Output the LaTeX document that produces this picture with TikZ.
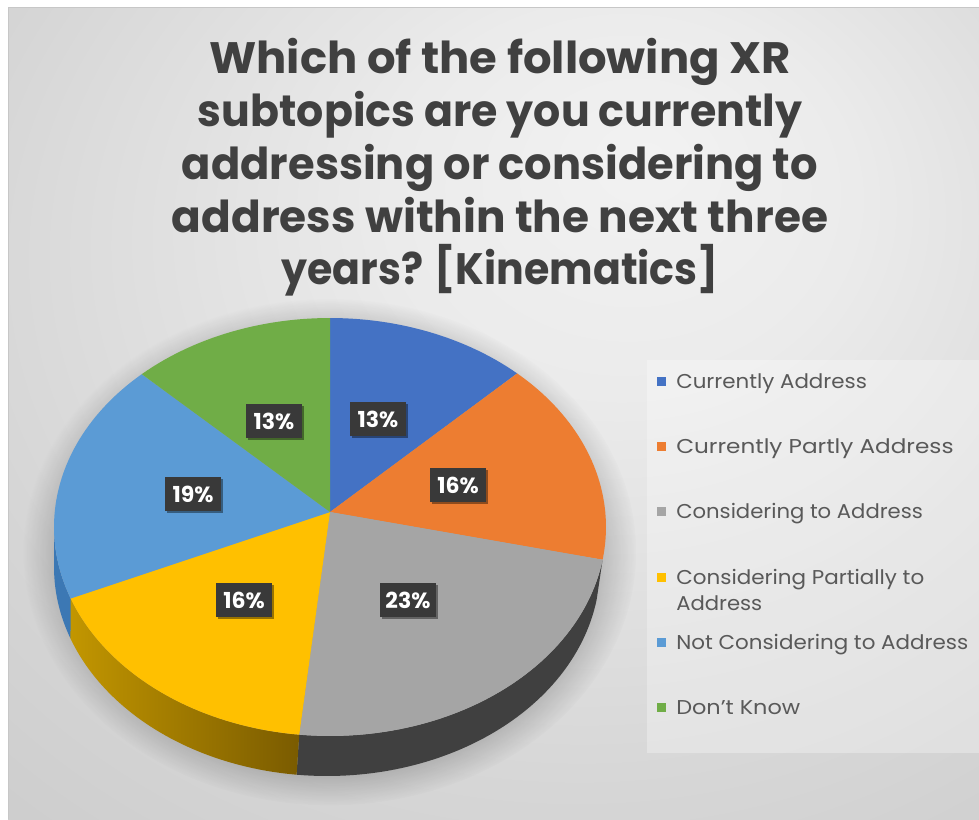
\documentclass[tikz,border=0pt]{standalone}
\usepackage{fontspec}
\usepackage{graphicx}
\setmainfont{Poppins}
\usetikzlibrary{shadows,fadings}
\definecolor{cBlue}{HTML}{4472C4}
\definecolor{cOrange}{HTML}{ED7D31}
\definecolor{cGray}{HTML}{A5A5A5}
\definecolor{cYellow}{HTML}{FFC000}
\definecolor{cLBlue}{HTML}{5B9BD5}
\definecolor{cGreen}{HTML}{70AD47}
\definecolor{sGray}{HTML}{404040}
\definecolor{sYellowA}{HTML}{C29600}
\definecolor{sYellowB}{HTML}{7A5B00}
\definecolor{sLBlue}{HTML}{3C78B4}
\definecolor{titlegray}{HTML}{404040}
\definecolor{legtext}{HTML}{595959}
\definecolor{labelbg}{HTML}{393939}
\definecolor{bgA}{HTML}{F2F2F2}
\definecolor{bgA2}{HTML}{EBEBEB}
\definecolor{bgB}{HTML}{D6D6D6}
\definecolor{bgC}{HTML}{C7C7C7}
\definecolor{bgD}{HTML}{C1C1C1}
\pgfdeclareradialshading{bgshade}{\pgfpoint{8bp}{16bp}}{color(0bp)=(bgA); color(12bp)=(bgA2); color(32bp)=(bgB); color(50bp)=(bgC); color(70bp)=(bgD)}
\tikzset{
  ttl/.style={anchor=base, text=titlegray, inner sep=0pt, font=\bfseries\fontsize{33}{38}\selectfont},
  pct/.style={fill=labelbg, text=white, inner sep=0pt, minimum width=42pt, minimum height=25.5pt,
    font=\bfseries\fontsize{16.5}{18}\selectfont,
    drop shadow={shadow xshift=1.2pt, shadow yshift=-1.2pt, opacity=0.4, fill=black}},
  leg/.style={anchor=base west, text=legtext, inner sep=0pt, font=\fontsize{15}{18}\selectfont},
  legsq/.style={minimum size=6.75pt, inner sep=0pt},
}
\newcommand{\pcx}{330}
\newcommand{\pcy}{527}
\newcommand{\prx}{276}
\newcommand{\pry}{209}
\newcommand{\pdep}{40}
\begin{document}
\begin{tikzpicture}[x=0.75pt,y=-0.75pt]
\useasboundingbox (0,0) rectangle (979,819);
\fill[white] (0,0) rectangle (979,819);
\shade[shading=bgshade] (8,7) rectangle (979,819);
\draw[black!22, line width=0.6pt] (8,819) -- (8,7) -- (979,7);
% legend panel
\fill[white, opacity=0.3] (647,360) rectangle (979,753);
% pie glow
\fill[black, opacity=0.28, path fading=circle with fuzzy edge 20 percent] (330,552) ellipse [x radius=230pt, y radius=190pt];
% sides
\fill[sGray] plot[domain=9:96.4, samples=60] ({\pcx+\prx*cos(\x)},{\pcy+\pry*sin(\x)})
   -- plot[domain=96.4:9, samples=60] ({\pcx-3+(\prx-3)*cos(\x)},{\pcy+\pdep+\pry*sin(\x)}) -- cycle;
\shade[left color=sYellowA, right color=sYellowB] plot[domain=96.4:160, samples=50] ({\pcx+\prx*cos(\x)},{\pcy+\pry*sin(\x)})
   -- plot[domain=160:96.4, samples=50] ({\pcx-3+(\prx-3)*cos(\x)},{\pcy+\pdep+\pry*sin(\x)}) -- cycle;
\fill[sLBlue] plot[domain=160:180, samples=15] ({\pcx+\prx*cos(\x)},{\pcy+\pry*sin(\x)})
   -- plot[domain=180:160, samples=15] ({\pcx-3+(\prx-3)*cos(\x)},{\pcy+\pdep+\pry*sin(\x)}) -- cycle;
% top faces
\coordinate (apex) at (330,512);
\fill[cBlue] (apex) -- plot[domain=-90:-47.3, samples=30] ({\pcx+\prx*cos(\x)},{\pcy+\pry*sin(\x)}) -- cycle;
\fill[cOrange] (apex) -- plot[domain=-47.3:9, samples=40] ({\pcx+\prx*cos(\x)},{\pcy+\pry*sin(\x)}) -- cycle;
\fill[cGray] (apex) -- plot[domain=9:96.4, samples=60] ({\pcx+\prx*cos(\x)},{\pcy+\pry*sin(\x)}) -- cycle;
\fill[cYellow] (apex) -- plot[domain=96.4:160, samples=50] ({\pcx+\prx*cos(\x)},{\pcy+\pry*sin(\x)}) -- cycle;
\fill[cLBlue] (apex) -- plot[domain=160:227, samples=50] ({\pcx+\prx*cos(\x)},{\pcy+\pry*sin(\x)}) -- cycle;
\fill[cGreen] (apex) -- plot[domain=227:270, samples=30] ({\pcx+\prx*cos(\x)},{\pcy+\pry*sin(\x)}) -- cycle;
% percentage labels
\node[pct] (pA) at (378,419) {13\%};
\node[pct] (pB) at (458,485) {16\%};
\node[pct] (pC) at (408,600) {23\%};
\node[pct] (pD) at (244,600) {16\%};
\node[pct] (pE) at (193,494) {19\%};
\node[pct] (pF) at (274,421) {13\%};
% title
\node[ttl] (t1) at (500,73) {\resizebox{436pt}{\height}{Which of the following XR}};
\node[ttl] (t2) at (500,126) {\resizebox{453pt}{\height}{subtopics are you currently}};
\node[ttl] (t3) at (500,179) {\resizebox{477pt}{\height}{addressing or considering to}};
\node[ttl] (t4) at (500,232) {\resizebox{492pt}{\height}{address within the next three}};
\node[ttl] (t5) at (500,284) {\resizebox{328pt}{\height}{years? [Kinematics]}};
% legend
\node[legsq, fill=cBlue] (q1) at (661.5,381) {};
\node[legsq, fill=cOrange] (q2) at (661.5,446) {};
\node[legsq, fill=cGray] (q3) at (661.5,511) {};
\node[legsq, fill=cYellow] (q4) at (661.5,577) {};
\node[legsq, fill=cLBlue] (q5) at (661.5,642) {};
\node[legsq, fill=cGreen] (q6) at (661.5,707) {};
\node[leg] (l1) at (676,388) {\resizebox{143pt}{\height}{Currently Address}};
\node[leg] (l2) at (676,453) {\resizebox{208pt}{\height}{Currently Partly Address}};
\node[leg] (l3) at (676,518) {\resizebox{185pt}{\height}{Considering to Address}};
\node[leg] (l4) at (676,584) {\resizebox{186pt}{\height}{Considering Partially to}};
\node[leg] (l4b) at (676,610) {\resizebox{64.5pt}{\height}{Address}};
\node[leg] (l5) at (676,649) {\resizebox{219pt}{\height}{Not Considering to Address}};
\node[leg] (l6) at (676,714) {\resizebox{93pt}{\height}{Don't Know}};
\end{tikzpicture}
\end{document}
